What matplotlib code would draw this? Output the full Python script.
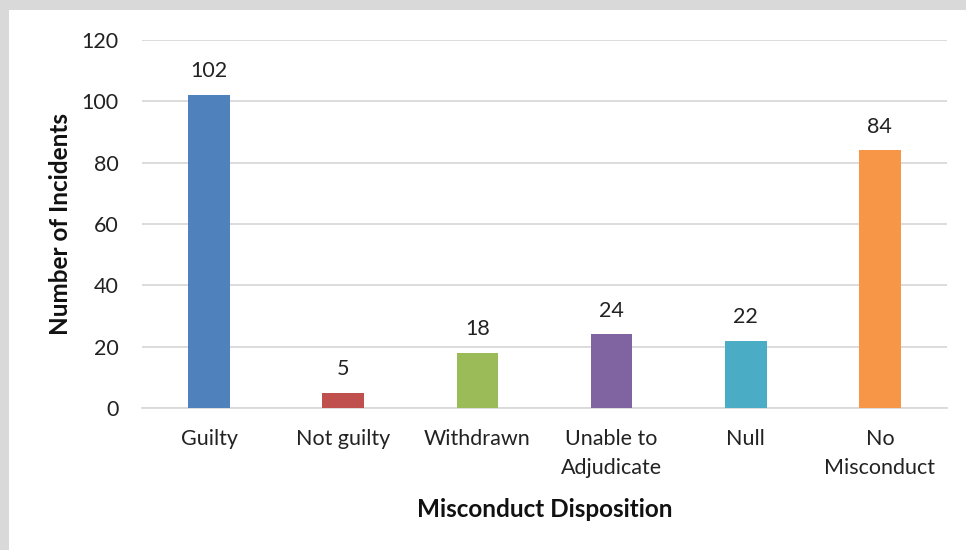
import matplotlib.pyplot as plt
from matplotlib.patches import Rectangle

categories = ['Guilty', 'Not guilty', 'Withdrawn', 'Unable to\nAdjudicate', 'Null', 'No\nMisconduct']
counts = [102, 5, 18, 24, 22, 84]
colors = ['#4F81BD', '#C0504D', '#9BBB59', '#8064A2', '#4BACC6', '#F79646']

plt.rcParams['font.family'] = ['Lato', 'DejaVu Sans']

fig = plt.figure(figsize=(9.66, 5.5), dpi=100, facecolor='#d9d9d9')
# white panel inside the grey frame
fig.patches.append(Rectangle((9 / 966, 0), 1, 540 / 550, transform=fig.transFigure,
                             facecolor='white', edgecolor='none', zorder=-10))

ax = fig.add_axes([142 / 966, 1 - 408 / 550, (947 - 142) / 966, (408 - 40) / 550])
ax.set_facecolor('none')

x = range(len(categories))
bars = ax.bar(x, counts, width=0.31, color=colors, zorder=3)
for xi, v in zip(x, counts):
    ax.text(xi, v + 4.5, str(v), ha='center', va='bottom', fontsize=15.5, color='#222222')

ax.set_xlim(-0.5, len(categories) - 0.5)
ax.set_ylim(0, 120)
ax.set_yticks(range(0, 121, 20))
ax.set_xticks(list(x))
ax.set_xticklabels(categories, fontsize=15.5, color='#222222', linespacing=1.55)
ax.tick_params(axis='y', labelsize=15.5, labelcolor='#222222', length=0, pad=17)
ax.tick_params(axis='x', length=0, pad=15)

ax.grid(axis='y', color='#d9d9d9', linewidth=1.3, zorder=0)
for s in ['top', 'right', 'left']:
    ax.spines[s].set_visible(False)
ax.spines['bottom'].set_color('#d9d9d9')
ax.spines['bottom'].set_linewidth(1.3)

ax.set_ylabel('Number of Incidents', fontsize=17.5, fontweight='bold', color='#111111', labelpad=7)
ax.set_xlabel('Misconduct Disposition', fontsize=17.5, fontweight='bold', color='#111111', labelpad=15)

fig.savefig('out.png', dpi=100, facecolor=fig.get_facecolor())
